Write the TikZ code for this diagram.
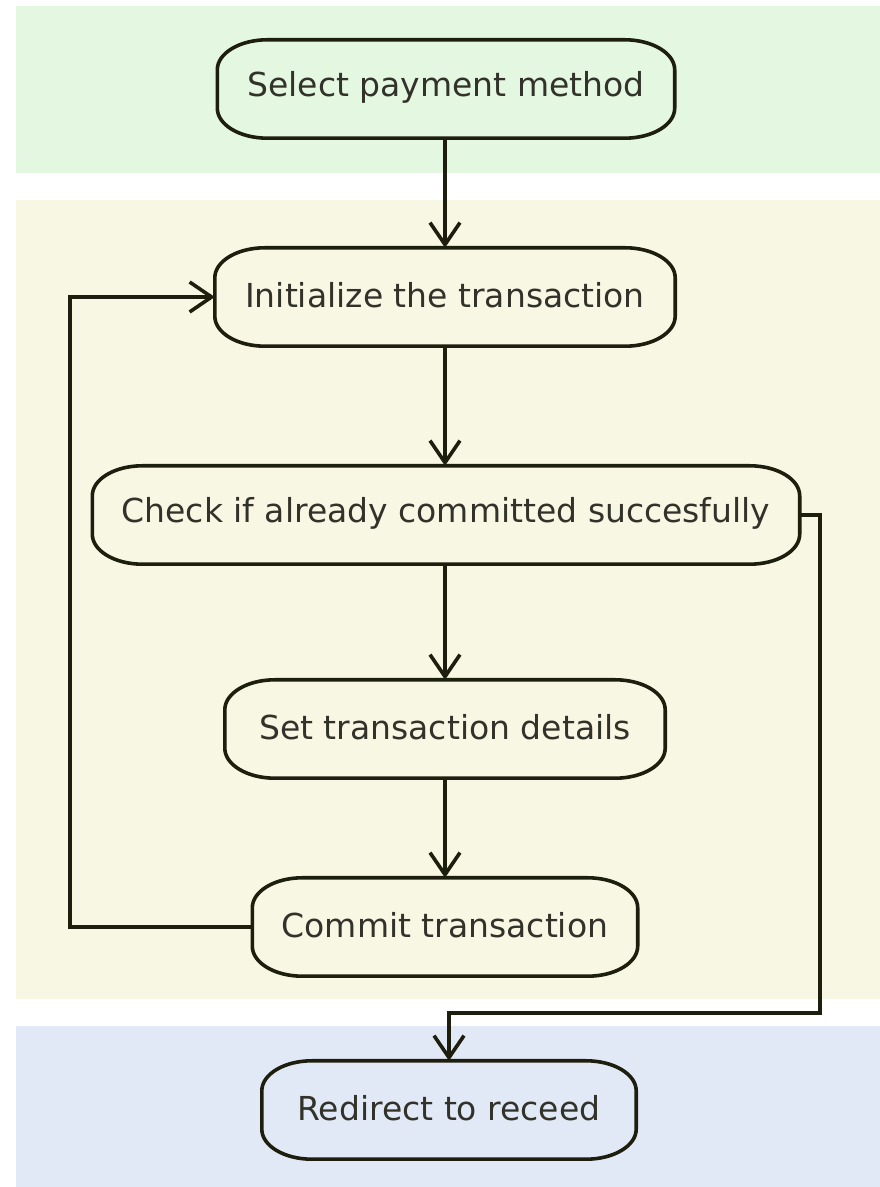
\documentclass[tikz,border=0pt]{standalone}
\usepackage{fontspec}
\setmainfont{DejaVu Sans}
\usetikzlibrary{arrows.meta}
\definecolor{bandgreen}{RGB}{227,247,225}
\definecolor{bandyellow}{RGB}{248,247,228}
\definecolor{bandblue}{RGB}{226,233,246}
\definecolor{linec}{RGB}{30,30,15}
\definecolor{textc}{RGB}{50,50,42}
\newcommand\capsule[2]{%
  \fill[#2] ([xshift=50pt]#1.north west) -- ([xshift=-50pt]#1.north east)
    arc[start angle=90,end angle=0,x radius=50pt,y radius=30pt]
    -- ([yshift=30pt]#1.south east)
    arc[start angle=0,end angle=-90,x radius=50pt,y radius=30pt]
    -- ([xshift=50pt]#1.south west)
    arc[start angle=270,end angle=180,x radius=50pt,y radius=30pt]
    -- ([yshift=-30pt]#1.north west)
    arc[start angle=180,end angle=90,x radius=50pt,y radius=30pt] -- cycle;
  \draw[outline] ([xshift=50pt]#1.north west) -- ([xshift=-50pt]#1.north east)
    arc[start angle=90,end angle=0,x radius=50pt,y radius=30pt]
    -- ([yshift=30pt]#1.south east)
    arc[start angle=0,end angle=-90,x radius=50pt,y radius=30pt]
    -- ([xshift=50pt]#1.south west)
    arc[start angle=270,end angle=180,x radius=50pt,y radius=30pt]
    -- ([yshift=-30pt]#1.north west)
    arc[start angle=180,end angle=90,x radius=50pt,y radius=30pt] -- cycle;}
\tikzset{
  term/.style={minimum height=98pt, inner sep=0pt, text=textc,
    font=\fontsize{33}{40}\selectfont},
  outline/.style={draw=linec, line width=3.6pt},
  flow/.style={draw=linec, line width=3.6pt,
    -{Straight Barb[length=22pt,width=30pt]}},
}
\begin{document}
\begin{tikzpicture}[x=1pt,y=1pt]
\useasboundingbox (0,0) rectangle (880,1187);
% bands
\fill[bandgreen] (16,1014) rectangle (880,1181);
\fill[bandyellow] (16,188) rectangle (880,987);
\fill[bandblue] (16,0) rectangle (880,161);
% nodes
\node[term, minimum width=457pt] (sel) at (446,1098) {};
\node[term, minimum width=460pt] (init) at (445,890) {};
\node[term, minimum width=707pt] (chk) at (446,672) {};
\node[term, minimum width=440pt] (set) at (445,458) {};
\node[term, minimum width=385pt] (com) at (445,260) {};
\node[term, minimum width=374pt] (red) at (449,77) {};
\capsule{sel}{bandgreen}
\capsule{init}{bandyellow}
\capsule{chk}{bandyellow}
\capsule{set}{bandyellow}
\capsule{com}{bandyellow}
\capsule{red}{bandblue}
\node[term] at ([yshift=2pt]sel.center) {Select payment method};
\node[term] at ([yshift=2pt]init.center) {Initialize the transaction};
\node[term] at ([yshift=2pt]chk.center) {Check if already committed succesfully};
\node[term] at ([yshift=2pt]set.center) {Set transaction details};
\node[term] at ([yshift=2pt]com.center) {Commit transaction};
\node[term] at ([yshift=2pt]red.center) {Redirect to receed};
% connectors
\coordinate (loopB) at (70,260);
\coordinate (loopT) at (70,890);
\coordinate (rgtT) at (820,672);
\coordinate (rgtB) at (820,174);
\coordinate (dropT) at (449,174);
\draw[flow] (sel.south -| 445,0) -- (init.north -| 445,0);
\draw[flow] (init.south -| 445,0) -- (chk.north -| 445,0);
\draw[flow] (chk.south -| 445,0) -- (set.north -| 445,0);
\draw[flow] (set.south -| 445,0) -- (com.north -| 445,0);
\draw[flow] (com.west) -- (loopB) -- (loopT) -- (init.west);
\draw[flow] (chk.east) -- (rgtT) -- (rgtB) -- (dropT) -- (red.north);
\end{tikzpicture}
\end{document}
